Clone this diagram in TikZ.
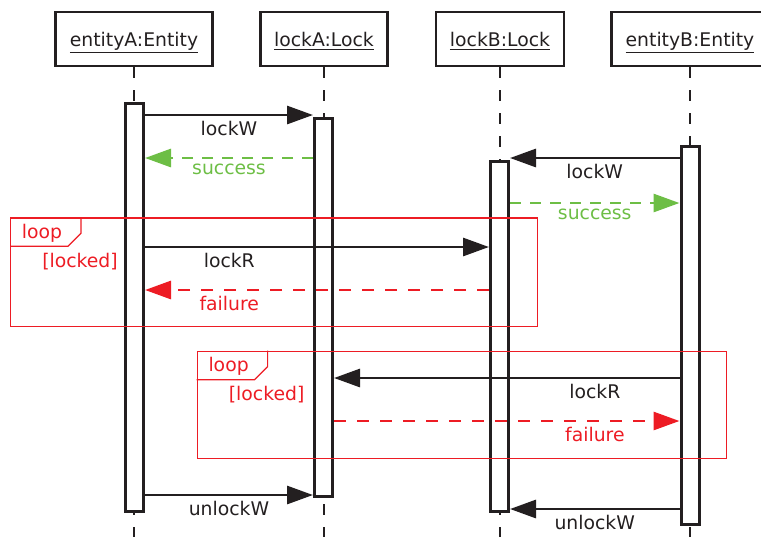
\documentclass[tikz,border=0pt]{standalone}
\usepackage{fontspec}
\setmainfont{DejaVu Sans}
\usetikzlibrary{positioning,arrows.meta}

\definecolor{ink}{RGB}{35,31,32}
\definecolor{okgreen}{RGB}{109,190,69}
\definecolor{failred}{RGB}{237,28,36}

\begin{document}
\begin{tikzpicture}[
		x=0.5pt,y=-0.5pt,
		every node/.style={font=\fontsize{9.4}{11}\selectfont},
		head/.style={
			draw=ink,
			line width=1.45pt,
			text=ink,
			minimum height=27pt,
			text depth=0pt,
			inner xsep=7pt
		},
		life/.style={draw=ink,line width=0.8pt,dash pattern=on 5.5pt off 6pt},
		bar/.style={draw=ink,fill=white,line width=1.5pt,minimum width=9pt,inner sep=0pt,anchor=north},
		frame/.style={draw=failred,line width=0.6pt,inner sep=0pt,anchor=north west},
		msgline/.style={line width=1.45pt,-{Triangle[length=13pt,width=9pt]}},
		msg/.style={msgline,color=ink},
		ok/.style={msgline,color=okgreen,dash pattern=on 5.5pt off 4.5pt},
		fail/.style={msgline,color=failred,dash pattern=on 6pt off 5.5pt},
		msglabel/.style={below=2.5pt,inner sep=0pt}
		]
		\useasboundingbox (0,0) rectangle (761,537);
		% Heads and lifelines
		\foreach \name/\x/\txt in {entA/134/entityA:Entity,lkA/324/lockA:Lock,lkB/500/lockB:Lock,entB/690/entityB:Entity}
			{
			\node[head] (\name) at (\x,39) {\underline{\txt}};
			\coordinate (\name-end) at (\x,537);
			\draw[life] (\name.south) -- (\name-end);
			}
		% Activation bars
		\node[bar,minimum height=204pt] (barA) at (134.5,101.5) {};
		\node[bar,minimum height=189pt] (barLA) at (323.5,116.5) {};
		\node[bar,minimum height=175pt] (barLB) at (499.5,159.5) {};
		\node[bar,minimum height=189pt] (barEB) at (690,144.5) {};
		% Loop frames
		\foreach \f/\x/\y/\w/\h in {loop1/10/217.3/263.5pt/54.2pt,loop2/196.6/350.7/264.5pt/53.5pt}
			{
			\node[frame,minimum width=\w,minimum height=\h] (\f) at (\x,\y) {};
			\draw[draw=failred,line width=0.6pt] ([xshift=35.5pt]\f.north west) -- ++(0,16) -- ++(-13,13) -- ([yshift=-14.5pt]\f.north west);
			\node[text=failred] (\f-kw) at ([shift={(32,16)}]\f.north west) {loop};
			\node[text=failred] (\f-guard) at ([shift={(70,44)}]\f.north west) {[locked]};
			}
		% Messages
		\foreach \y/\from/\to/\lbl/\sty/\p in {
			115/barA.east/barLA.west/lockW/msg/0.5,
			158/barLA.west/barA.east/success/ok/0.5,
			158/barEB.west/barLB.east/lockW/msg/0.5,
			203/barLB.east/barEB.west/success/ok/0.5,
			247/barA.east/barLB.west/lockR/msg/0.245,
			290/barLB.west/barA.east/failure/fail/0.755,
			378/barEB.west/barLA.east/lockR/msg/0.245,
			421/barLA.east/barEB.west/failure/fail/0.755,
			495/barA.east/barLA.west/unlockW/msg/0.5,
			509/barEB.west/barLB.east/unlockW/msg/0.5}
			\draw[\sty] (\from |- 0,\y) -- (\to |- 0,\y) node[pos=\p,msglabel] {\lbl};
		\end{tikzpicture}
\end{document}
